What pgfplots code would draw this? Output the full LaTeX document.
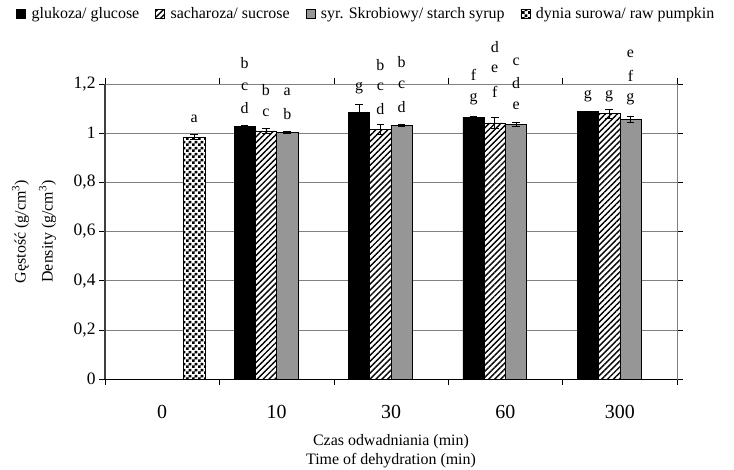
\documentclass[border=0pt]{standalone}
\usepackage{pgfplots}
\pgfplotsset{compat=1.18}
\usepackage{fontspec}
\setmainfont{Liberation Serif}
\usetikzlibrary{patterns,patterns.meta}
\definecolor{barsgray}{RGB}{150,150,150}
\definecolor{gridgray}{RGB}{128,128,128}
\pgfdeclarepatternformonly{mychecker}{\pgfpointorigin}{\pgfqpoint{6bp}{6bp}}{\pgfqpoint{6bp}{6bp}}{%
  \pgfpathrectangle{\pgfpointorigin}{\pgfqpoint{3bp}{3bp}}%
  \pgfpathrectangle{\pgfqpoint{3bp}{3bp}}{\pgfqpoint{3bp}{3bp}}%
  \pgfusepath{fill}}
\pgfplotsset{
  mylegend/.style={legend image code/.code={\draw[##1,draw=black,line width=0.6bp] (0bp,-4.5bp) rectangle (9bp,4.5bp);\pgfpathmoveto{\pgfqpoint{13bp}{0bp}}\pgfusepath{discard}}},
}
\begin{document}
\begin{tikzpicture}
\path[use as bounding box] (0,0) rectangle (734bp,470bp);
\begin{axis}[
  at={(105bp,91bp)}, anchor=south west,
  scale only axis, width=572bp, height=295bp,
  xmin=-0.5, xmax=4.5, ymin=0, ymax=1.2,
  ybar=0pt, bar width=21.3bp,
  clip=false,
  xtick={0,1,2,3,4}, xticklabels={0,10,30,60,300},
  minor xtick={-0.5,0.5,1.5,2.5,3.5,4.5},
  ytick={0,0.2,0.4,0.6,0.8,1,1.2},
  major x tick style={draw=none},
  tick align=outside,
  major tick length=6bp, minor tick length=6bp,
  tick style={black, line width=0.6bp},
  ymajorgrids, grid style={gridgray, line width=0.6bp},
  axis line style={gridgray, line width=0.6bp},
  /pgf/number format/use comma,
  /pgf/number format/assume math mode=true,
  xticklabel style={font=\fontsize{20}{24}\selectfont, yshift=-17bp},
  yticklabel style={font=\fontsize{17.5}{20}\selectfont},
  every axis y label/.style={at={(axis description cs:-0.124,0.5)}, rotate=90, anchor=center, align=center, font=\fontsize{16}{27}\selectfont},
  every axis x label/.style={at={(axis description cs:0.5,-0.245)}, anchor=center, align=center, font=\fontsize{16}{19}\selectfont},
  ylabel={Gęstość (g/cm\textsuperscript{3})\\Density (g/cm\textsuperscript{3})},
  xlabel={Czas odwadniania (min)\\Time of dehydration (min)},
  legend style={at={(axis description cs:0.457,1.237)}, anchor=center, draw=none, fill=none,
    font=\fontsize{16}{18}\selectfont, legend columns=4,
    /tikz/every even column/.append style={column sep=14bp}},
  error bars/y dir=both, error bars/y explicit,
  error bars/error bar style={black, line width=0.8bp},
  error bars/error mark options={rotate=90, black, mark size=3.8bp, line width=0.8bp},
]
\addplot[mylegend, fill=black, draw=black, line width=0.6bp] coordinates {
  (1,1.026) +- (0,0.006)
  (2,1.083) +- (0,0.035)
  (3,1.064) +- (0,0.005)
  (4,1.087) +- (0,0.002)
};
\addlegendentry{glukoza/ glucose}
\addplot[mylegend, fill=white, draw=black, line width=0.6bp, postaction={pattern={Lines[angle=45,distance=4.2bp,line width=1.4bp]}}] coordinates {
  (1,1.009) +- (0,0.010)
  (2,1.016) +- (0,0.019)
  (3,1.042) +- (0,0.022)
  (4,1.080) +- (0,0.018)
};
\addlegendentry{sacharoza/ sucrose}
\addplot[mylegend, fill=barsgray, draw=black, line width=0.6bp] coordinates {
  (1,1.003) +- (0,0.005)
  (2,1.030) +- (0,0.004)
  (3,1.035) +- (0,0.008)
  (4,1.057) +- (0,0.013)
};
\addlegendentry{syr. Skrobiowy/ starch syrup}
\addplot[mylegend, fill=white, draw=black, line width=0.6bp, postaction={pattern=mychecker}] coordinates {
  (0,0.984) +- (0,0.010)
};
\addlegendentry{dynia surowa/ raw pumpkin}

\draw[black, line width=0.8bp] (rel axis cs:0,0) -- (rel axis cs:1,0);
\draw[black!75, line width=1.2bp] (rel axis cs:0,0) -- (rel axis cs:0,1);

\begin{scope}[every node/.style={font=\fontsize{16}{19}\selectfont, inner sep=0pt, anchor=center}]
\node at (axis cs:0.279,1.057) {a};
\node at (axis cs:0.721,1.285) {b};
\node at (axis cs:0.721,1.187) {c};
\node at (axis cs:0.721,1.102) {d};
\node at (axis cs:0.907,1.175) {b};
\node at (axis cs:0.907,1.081) {c};
\node at (axis cs:1.093,1.167) {a};
\node at (axis cs:1.093,1.077) {b};
\node at (axis cs:1.721,1.183) {g};
\node at (axis cs:1.907,1.276) {b};
\node at (axis cs:1.907,1.187) {c};
\node at (axis cs:1.907,1.098) {d};
\node at (axis cs:2.093,1.289) {b};
\node at (axis cs:2.093,1.195) {c};
\node at (axis cs:2.093,1.106) {d};
\node at (axis cs:2.721,1.236) {f};
\node at (axis cs:2.721,1.138) {g};
\node at (axis cs:2.907,1.350) {d};
\node at (axis cs:2.907,1.260) {e};
\node at (axis cs:2.907,1.167) {f};
\node at (axis cs:3.093,1.289) {c};
\node at (axis cs:3.093,1.203) {d};
\node at (axis cs:3.093,1.110) {e};
\node at (axis cs:3.721,1.150) {g};
\node at (axis cs:3.907,1.150) {g};
\node at (axis cs:4.093,1.321) {e};
\node at (axis cs:4.093,1.232) {f};
\node at (axis cs:4.093,1.138) {g};
\end{scope}
\end{axis}
\end{tikzpicture}
\end{document}
